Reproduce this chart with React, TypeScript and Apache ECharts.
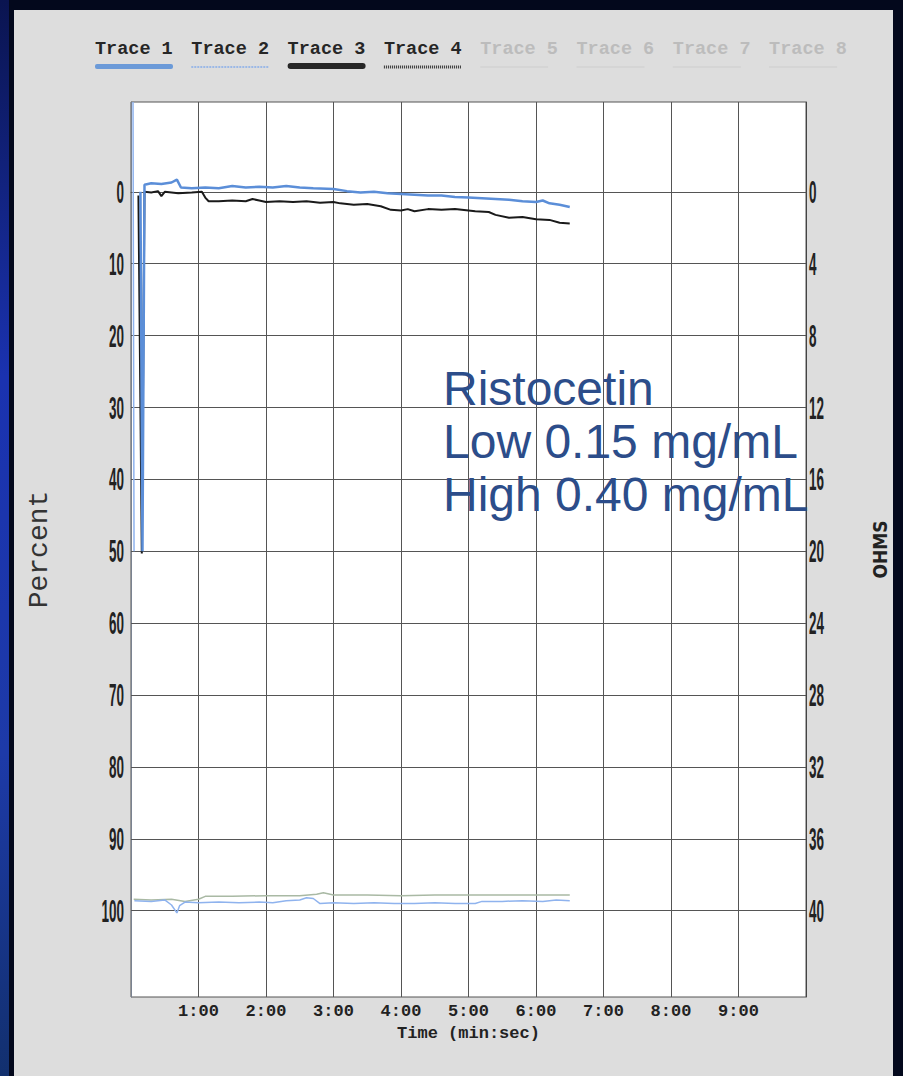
import React, { useEffect, useRef } from "react";
import * as echarts from "echarts";

const xTicks = [0, 1, 2, 3, 4, 5, 6, 7, 8, 9, 10];
const leftTicks = [0, 10, 20, 30, 40, 50, 60, 70, 80, 90, 100];
const rightTicks = [0, 4, 8, 12, 16, 20, 24, 28, 32, 36, 40];
const legendNames = ["Trace 1", "Trace 2", "Trace 3", "Trace 4", "Trace 5", "Trace 6", "Trace 7", "Trace 8"];
const legendActive = [true, true, true, true, false, false, false, false];
const annotationLines = ["Ristocetin", "Low 0.15 mg/mL", "High 0.40 mg/mL"];

// Trace 1 (blue, upper)
const trace1Time = [0.14, 0.17, 0.2, 0.3, 0.45, 0.6, 0.68, 0.74, 0.9, 1.1, 1.3, 1.5, 1.7, 1.9, 2.1, 2.3, 2.5, 2.7, 3.0, 3.2, 3.4, 3.6, 3.8, 4.0, 4.2, 4.4, 4.6, 4.8, 5.0, 5.2, 5.4, 5.6, 5.8, 6.0, 6.1, 6.2, 6.35, 6.5];
const trace1Pct = [0.0, 50.0, -1.0, -1.2, -1.1, -1.3, -1.7, -0.6, -0.5, -0.6, -0.5, -0.8, -0.6, -0.7, -0.6, -0.8, -0.6, -0.5, -0.4, -0.1, 0.1, 0.0, 0.2, 0.3, 0.4, 0.5, 0.5, 0.7, 0.8, 0.9, 1.0, 1.1, 1.3, 1.4, 1.2, 1.6, 1.8, 2.1];

// Trace 2 (light blue, lower) - initial off-scale sweep, then baseline
const trace2SpikeTime = [0.03, 0.045];
const trace2SpikePct = [-12.5, 50];
const trace2Time = [0.05, 0.3, 0.5, 0.6, 0.68, 0.72, 0.8, 1.0, 1.3, 1.6, 1.9, 2.1, 2.3, 2.5, 2.6, 2.7, 2.8, 3.0, 3.3, 3.6, 3.9, 4.2, 4.5, 4.8, 5.1, 5.2, 5.5, 5.8, 6.1, 6.3, 6.5];
const trace2Pct = [98.6, 98.7, 98.5, 99.2, 100.3, 99.3, 98.8, 98.9, 98.8, 98.9, 98.8, 98.9, 98.6, 98.5, 98.2, 98.3, 99.0, 98.9, 99.0, 98.9, 99.0, 99.0, 98.9, 99.0, 99.0, 98.7, 98.7, 98.6, 98.7, 98.5, 98.6];

// Trace 3 (black, upper)
const trace3Time = [0.11, 0.16, 0.2, 0.3, 0.4, 0.45, 0.5, 0.7, 0.9, 1.05, 1.1, 1.15, 1.3, 1.5, 1.7, 1.8, 1.9, 2.0, 2.2, 2.4, 2.6, 2.8, 3.0, 3.1, 3.3, 3.5, 3.7, 3.85, 4.0, 4.1, 4.2, 4.4, 4.6, 4.8, 5.0, 5.1, 5.3, 5.4, 5.6, 5.8, 6.0, 6.2, 6.35, 6.5];
const trace3Pct = [0.5, 50.3, 0.0, 0.1, -0.1, 0.6, 0.0, 0.2, 0.1, 0.0, 0.8, 1.3, 1.3, 1.2, 1.3, 1.0, 1.2, 1.4, 1.3, 1.4, 1.3, 1.5, 1.4, 1.6, 1.8, 1.7, 2.0, 2.5, 2.6, 2.4, 2.7, 2.4, 2.5, 2.4, 2.6, 2.7, 2.8, 3.2, 3.6, 3.5, 3.8, 3.9, 4.3, 4.4];

// Trace 4 (grey, lower)
const trace4Time = [0.04, 0.3, 0.6, 0.8, 1.0, 1.1, 1.5, 2.0, 2.5, 2.75, 2.85, 3.0, 3.5, 4.0, 4.5, 5.0, 5.5, 6.0, 6.5];
const trace4Pct = [98.4, 98.5, 98.4, 98.7, 98.4, 98.0, 98.0, 97.9, 97.9, 97.7, 97.5, 97.8, 97.8, 97.9, 97.8, 97.8, 97.8, 97.8, 97.8];

const zip = (t: number[], v: number[]) => t.map((x, i) => [x, v[i]]);

const numFont = "'Liberation Sans', Arial, sans-serif";
const monoFont = "'Liberation Mono', 'DejaVu Sans Mono', monospace";

export default function App() {
  const ref = useRef<HTMLDivElement>(null);

  useEffect(() => {
    if (!ref.current) return;
    const chart = echarts.init(ref.current, undefined, { renderer: "svg" });

    const option: any = {
      animation: false,
      grid: {
        left: 131,
        top: 102,
        width: 675,
        height: 895,
        show: true,
        backgroundColor: "#ffffff",
        borderColor: "#555",
        borderWidth: 1,
      },
      xAxis: {
        type: "value",
        min: xTicks[0],
        max: xTicks[xTicks.length - 1],
        interval: 1,
        name: "Time (min:sec)",
        nameLocation: "middle",
        nameGap: 17,
        nameTextStyle: { fontFamily: monoFont, fontWeight: "bold", fontSize: 17, color: "#222" },
        axisLine: { show: true, lineStyle: { color: "#555" } },
        axisTick: { show: false },
        axisLabel: {
          margin: 6,
          fontFamily: monoFont,
          fontWeight: "bold",
          fontSize: 17,
          color: "#222",
          formatter: (v: number) => (v >= 1 && v <= 9 ? `${v}:00` : ""),
        },
        splitLine: { show: true, lineStyle: { color: "#555", width: 1 } },
      },
      yAxis: [
        {
          type: "value",
          inverse: true,
          min: -12.5,
          max: 112,
          position: "left",
          name: "Percent",
          nameLocation: "middle",
          nameRotate: 90,
          nameGap: 78,
          nameTextStyle: { fontFamily: monoFont, fontSize: 28, color: "#333" },
          axisLine: { show: true, lineStyle: { color: "#7a8290" } },
          axisTick: { show: false },
          splitLine: { show: false },
          axisLabel: { show: false },
        },
        {
          type: "value",
          inverse: true,
          min: -5,
          max: 44.8,
          position: "right",
          name: "OHMS",
          nameLocation: "middle",
          nameRotate: 90,
          nameGap: 64,
          nameTextStyle: { fontFamily: "'DejaVu Sans Condensed', 'DejaVu Sans', sans-serif", fontWeight: "bold", fontSize: 19, color: "#222" },
          axisLine: { show: true, lineStyle: { color: "#444" } },
          axisTick: { show: false },
          splitLine: { show: false },
          axisLabel: { show: false },
        },
      ],
      series: [
        {
          name: "Trace 4",
          type: "line",
          yAxisIndex: 0,
          showSymbol: false,
          symbol: "none",
          data: zip(trace4Time, trace4Pct),
          lineStyle: { color: "#a9b9a4", width: 1.5 },
          markLine: {
            silent: true,
            symbol: "none",
            z: 1,
            label: { show: false },
            lineStyle: { color: "#555", width: 1, type: "solid" },
            data: leftTicks.map((v) => ({ yAxis: v })),
          },
        },
        {
          name: "Trace 2",
          type: "line",
          yAxisIndex: 0,
          showSymbol: false,
          symbol: "none",
          connectNulls: false,
          data: [...zip(trace2SpikeTime, trace2SpikePct), [0.047, "-"], ...zip(trace2Time, trace2Pct)],
          lineStyle: { color: "#8fb3ee", width: 1.5 },
        },
        {
          name: "Trace 3",
          type: "line",
          yAxisIndex: 0,
          showSymbol: false,
          symbol: "none",
          data: zip(trace3Time, trace3Pct),
          lineStyle: { color: "#1a1a1a", width: 2 },
        },
        {
          name: "Trace 1",
          type: "line",
          yAxisIndex: 0,
          showSymbol: false,
          symbol: "none",
          data: zip(trace1Time, trace1Pct),
          lineStyle: { color: "#5b8ed8", width: 2.5 },
        },
      ],
    };

    chart.setOption(option);

    // legend drawn as text with a line sample under each name
    const graphics: any[] = [];
    legendNames.forEach((name, i) => {
      const x = 95 + i * 96.3;
      graphics.push({
        type: "text",
        x,
        y: 49,
        style: {
          text: name,
          font: `bold 18.5px ${monoFont}`,
          fill: legendActive[i] ? "#262626" : "#bcbcbc",
          verticalAlign: "middle",
        },
      });
      const w = 78;
      if (i === 0) {
        graphics.push({ type: "rect", shape: { x, y: 64, width: w, height: 5, r: 2 }, style: { fill: "#6b9ad8" } });
      } else if (i === 1) {
        graphics.push({ type: "line", shape: { x1: x, y1: 67, x2: x + w, y2: 67 }, style: { stroke: "#9bb8e6", lineWidth: 2, lineDash: [2, 1] } });
      } else if (i === 2) {
        graphics.push({ type: "rect", shape: { x, y: 63, width: w, height: 6, r: 3 }, style: { fill: "#262626" } });
      } else if (i === 3) {
        graphics.push({ type: "line", shape: { x1: x, y1: 67, x2: x + w, y2: 67 }, style: { stroke: "#333", lineWidth: 3, lineDash: [1, 1] } });
      } else {
        graphics.push({ type: "line", shape: { x1: x, y1: 67, x2: x + w - 10, y2: 67 }, style: { stroke: "#cdcdcd", lineWidth: 1 } });
      }
    });

    // condensed tick labels placed through the axes' own scales
    const labelFont = `bold 32px ${numFont}`;
    leftTicks.forEach((v) => {
      const py = chart.convertToPixel({ yAxisIndex: 0 } as any, v) as any as number;
      graphics.push({
        type: "text",
        x: 124,
        y: py,
        scaleX: 0.42,
        style: { text: String(v), font: labelFont, fill: "#222", align: "right", verticalAlign: "middle" },
      });
    });
    rightTicks.forEach((v) => {
      const py = chart.convertToPixel({ yAxisIndex: 1 } as any, v) as any as number;
      graphics.push({
        type: "text",
        x: 809,
        y: py,
        scaleX: 0.42,
        style: { text: String(v), font: labelFont, fill: "#222", align: "left", verticalAlign: "middle" },
      });
    });

    graphics.push({
      type: "text",
      left: 443,
      top: 362,
      z: 100,
      style: {
        text: annotationLines.join("\n"),
        font: "48px 'Liberation Sans', Arial, sans-serif",
        lineHeight: 53,
        fill: "#2c4d8a",
      },
    });

    chart.setOption({ graphic: graphics });
    return () => chart.dispose();
  }, []);

  return (
    <div style={{ position: "absolute", left: 0, top: 0, width: 903, height: 1076, background: "#03081c", overflow: "hidden" }}>
      <div
        style={{
          position: "absolute",
          left: 0,
          top: 0,
          width: 9,
          height: 1076,
          background: "linear-gradient(to bottom, #0a1450 0%, #1a32b0 35%, #1d3aa8 70%, #12306e 100%)",
        }}
      />
      <div style={{ position: "absolute", left: 14, top: 10, width: 879, height: 1066, background: "#dddddd" }} />
      <div ref={ref} style={{ position: "absolute", left: 0, top: 0, width: 903, height: 1076 }} />
    </div>
  );
}
